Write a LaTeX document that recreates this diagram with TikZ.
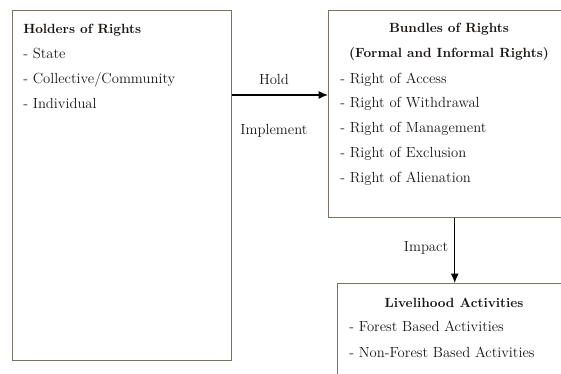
\documentclass[tikz,border=0pt]{standalone}
\usetikzlibrary{arrows.meta}

\definecolor{boxline}{RGB}{125,113,96}
\definecolor{ink}{RGB}{25,22,20}

\tikzset{
  framebox/.style={draw=boxline, line width=1.1pt, anchor=north west, inner sep=0pt},
  heading/.style={text=ink, inner xsep=0pt, text height=7.5pt, text depth=2.5pt,
    font=\bfseries\fontsize{10}{12}\selectfont},
  item/.style={text=ink, anchor=west, inner xsep=0pt, text height=7.5pt, text depth=2.5pt,
    font=\fontsize{11}{13}\selectfont},
  link/.style={line width=0.9pt, -{Latex[length=7pt,width=6pt]}},
}

\begin{document}
\begin{tikzpicture}[x=0.75pt, y=-0.75pt]
  \clip (0,0) rectangle (561,374);

  % the three boxes (two of them run off the page)
  \node[framebox, minimum width=164.25pt, minimum height=262.5pt] (holders) at (12,10) {};
  \node[framebox, minimum width=181.5pt, minimum height=155.25pt] (bundles) at (328,10) {};
  \node[framebox, minimum width=175.5pt, minimum height=90pt] (livelihood) at (337,283) {};

  % holders
  \node[heading, anchor=west] (holderstitle) at (23,30) {Holders of Rights};
  \foreach \y/\txt [count=\i] in {55/State, 80/{Collective/Community}, 105/Individual}{
    \node[item, name=holder\i] at (23,\y) {- \txt};
  }

  % bundles
  \node[heading] (bundlestitle) at (449,29) {Bundles of Rights};
  \node[heading] (bundlessub) at (449,54) {(Formal and Informal Rights)};
  \foreach \y/\txt [count=\i] in {80/Access, 104/Withdrawal, 129/Management, 154/Exclusion, 179/Alienation}{
    \node[item, name=right\i] at (340,\y) {- Right of \txt};
  }

  % livelihood
  \node[heading] (livelihoodtitle) at (454,304) {Livelihood Activities};
  \node[item] (forest) at (349,328) {- Forest Based Activities};
  \node[item] (nonforest) at (349,354) {- Non-Forest Based Activities};

  % arrows
  \coordinate (holdrow) at (0,95);
  \draw[link] (holders.east |- holdrow) -- (bundles.west |- holdrow);
  \node[item, anchor=center] (hold) at (274,81) {Hold};
  \node[item, anchor=center] (implement) at (274,131) {Implement};

  \draw[link] (bundles.south -| livelihood.north) -- (livelihood.north);
  \node[item, anchor=center] (impact) at (426,248) {Impact};
\end{tikzpicture}
\end{document}
